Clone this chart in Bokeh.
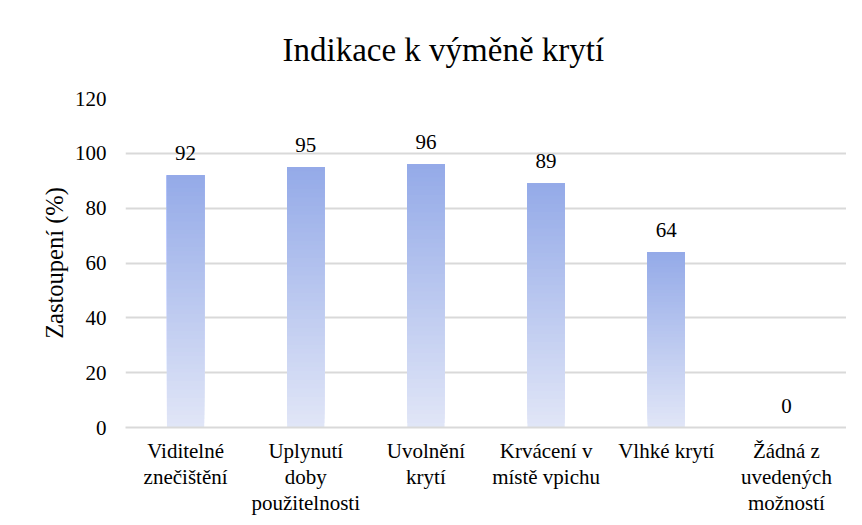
from bokeh.plotting import figure
from bokeh.models import Range1d, FixedTicker, ColumnDataSource, LinearAxis
from bokeh.core.properties import value
from bokeh.embed import file_html
from bokeh.resources import INLINE

title_text = "Indikace k výměně krytí"
y_label = "Zastoupení (%)"
categories = ["Viditelné znečištění", "Uplynutí doby použitelnosti", "Uvolnění krytí",
              "Krvácení v místě vpichu", "Vlhké krytí", "Žádná z uvedených možností"]
label_line1 = ["Viditelné", "Uplynutí", "Uvolnění", "Krvácení v", "Vlhké krytí", "Žádná z"]
label_line2 = ["znečištění", "doby", "krytí", "místě vpichu", "", "uvedených"]
label_line3 = ["", "použitelnosti", "", "", "", "možností"]
values = [92, 95, 96, 89, 64, 0]
y_ticks = [0, 20, 40, 60, 80, 100, 120]

FONT = "Liberation Serif"
TOP = (0x94, 0xAA, 0xE8)
BOTTOM = (0xE1, 0xE6, 0xF7)
N = 60

positions = list(range(1, len(categories) + 1))

p = figure(width=846, height=517, x_range=Range1d(0.5, len(categories) + 0.5), y_range=Range1d(0, 120),
           output_backend="svg", toolbar_location=None,
           min_border_left=125, min_border_right=0, min_border_top=98, min_border_bottom=87)
p.outline_line_color = None
p.background_fill_color = "white"
p.border_fill_color = "white"

# gradient bars: each bar drawn as stacked slices, every slice reaching the bar top
xs, bots, tops, cols = [], [], [], []
for xpos, v in zip(positions, values):
    if v <= 0:
        continue
    for i in range(N):
        t = (i + 0.5) / N
        r = int(round(BOTTOM[0] + (TOP[0] - BOTTOM[0]) * t))
        g = int(round(BOTTOM[1] + (TOP[1] - BOTTOM[1]) * t))
        b = int(round(BOTTOM[2] + (TOP[2] - BOTTOM[2]) * t))
        xs.append(xpos)
        bots.append(v * i / N)
        tops.append(v)
        cols.append("#%02x%02x%02x" % (r, g, b))
src = ColumnDataSource(dict(x=xs, bottom=bots, top=tops, color=cols))
p.vbar(x="x", bottom="bottom", top="top", width=0.31, fill_color="color", line_color=None, source=src)

lab = ColumnDataSource(dict(x=positions, y=values, t=[str(v) for v in values]))
p.text(x="x", y="y", text="t", source=lab, y_offset=-15, text_align="center",
       text_baseline="bottom", text_font=value(FONT), text_font_size="21px", text_color="#000000")

p.title.text = title_text
p.title.align = "left"
p.title.vertical_align = "top"
p.title.offset = 157
p.title.text_font = FONT
p.title.text_font_size = "33px"
p.title.text_font_style = "normal"
p.title.text_color = "#000000"
p.title.standoff = 57

p.ygrid.ticker = FixedTicker(ticks=y_ticks)
p.ygrid.grid_line_color = "#d9d9d9"
p.ygrid.grid_line_width = 2
p.xgrid.grid_line_color = None

p.yaxis.ticker = FixedTicker(ticks=y_ticks)
p.yaxis.axis_line_color = None
p.yaxis.major_tick_line_color = None
p.yaxis.minor_tick_line_color = None
p.yaxis.major_tick_out = 0
p.yaxis.major_tick_in = 0
p.yaxis.major_label_text_font = FONT
p.yaxis.major_label_text_font_size = "21px"
p.yaxis.major_label_text_color = "#000000"
p.yaxis.major_label_standoff = 19
p.yaxis.axis_label = y_label
p.yaxis.axis_label_text_font = FONT
p.yaxis.axis_label_text_font_size = "24.5px"
p.yaxis.axis_label_text_font_style = "normal"
p.yaxis.axis_label_text_color = "#000000"
p.yaxis.axis_label_standoff = 4

def style_x(ax, lines, standoff, show_line):
    ax.ticker = FixedTicker(ticks=positions)
    ax.axis_line_color = "#d9d9d9" if show_line else None
    ax.axis_line_width = 2
    ax.major_tick_line_color = None
    ax.minor_tick_line_color = None
    ax.major_tick_out = 0
    ax.major_tick_in = 0
    ax.major_label_text_font = FONT
    ax.major_label_text_font_size = "21px"
    ax.major_label_text_color = "#000000"
    ax.major_label_standoff = standoff
    ax.major_label_overrides = {pos: (txt if txt else " ") for pos, txt in zip(positions, lines)}

style_x(p.xaxis[0], label_line1, 11, True)
ax2 = LinearAxis()
style_x(ax2, label_line2, -1, False)
p.add_layout(ax2, "below")
ax3 = LinearAxis()
style_x(ax3, label_line3, -1, False)
p.add_layout(ax3, "below")

open("out.html", "w").write(file_html(p, INLINE))
